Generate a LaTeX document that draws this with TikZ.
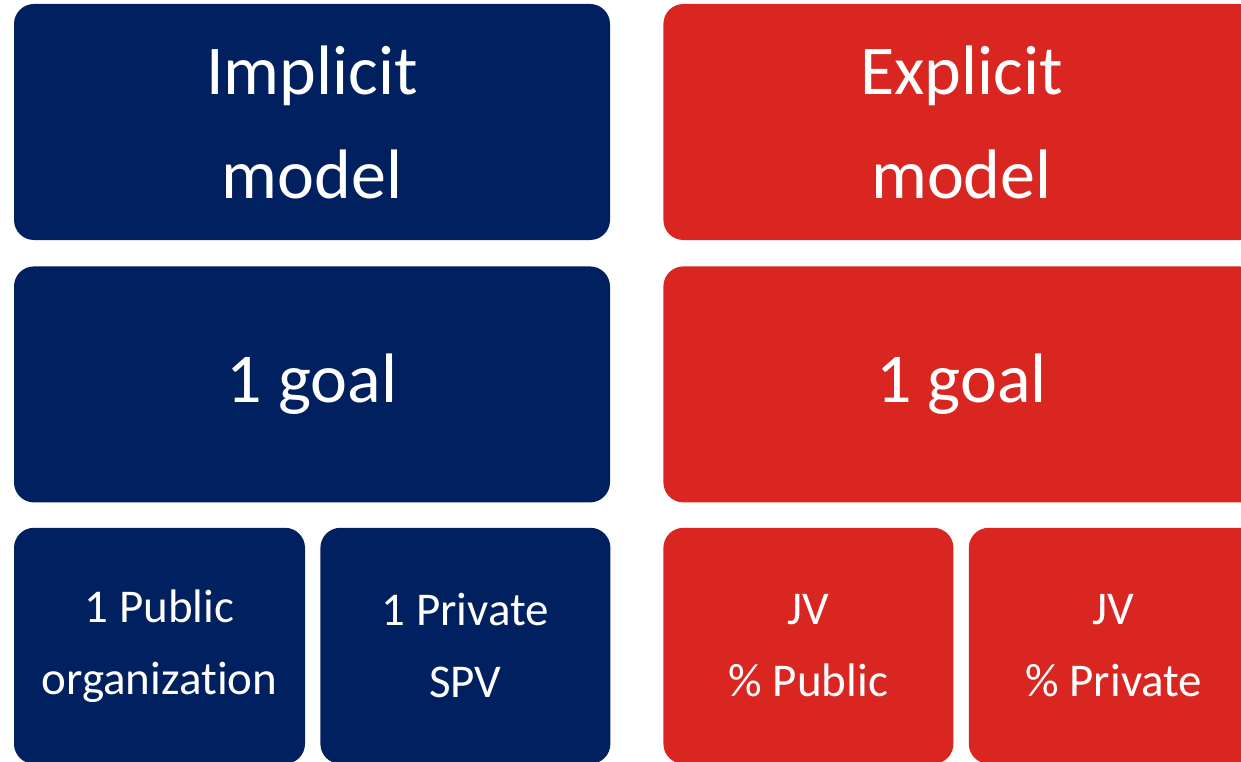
\documentclass[tikz,border=0pt]{standalone}
\usepackage{fontspec}
\setmainfont[Ligatures=NoCommon]{Carlito}
\usetikzlibrary{positioning}
\definecolor{navy}{RGB}{0,32,96}
\definecolor{brick}{RGB}{217,38,33}
\tikzset{tile/.style={rounded corners=20pt, inner sep=0pt, text=white, align=center, minimum height=236pt}}
\tikzset{wide/.style={tile, minimum width=596pt}}
\tikzset{half/.style={tile, minimum width=290pt}}
\tikzset{big/.style={font=\fontsize{70}{104}\selectfont}}
\tikzset{small/.style={font=\fontsize{47}{72}\selectfont}}

\begin{document}
\begin{tikzpicture}[x=1pt, y=-1pt, node distance=25pt]
  \clip (0,0) rectangle (1241,762);
  \node(impl) [wide, big, fill=navy] at (312,122) {Implicit\\model};
  \node(igoal) [wide, big, fill=navy, below=26pt of impl] {1 goal};
  \node(ipub) [half, small, fill=navy, minimum width=291pt, below right=25pt and 0pt of igoal.south west] {1 Public\\organization};
  \node(ispv) [half, small, fill=navy, right=15pt of ipub] {1 Private\\SPV};
  \node(expl) [wide, big, fill=brick, right=53pt of impl] {Explicit\\model};
  \node(egoal) [wide, big, fill=brick, below=26pt of expl] {1 goal};
  \node(jvpub) [half, small, fill=brick, below right=25pt and 0pt of egoal.south west] {JV\\\% Public};
  \node(jvpriv) [half, small, fill=brick, right=15pt of jvpub] {JV\\\% Private};
\end{tikzpicture}
\end{document}
